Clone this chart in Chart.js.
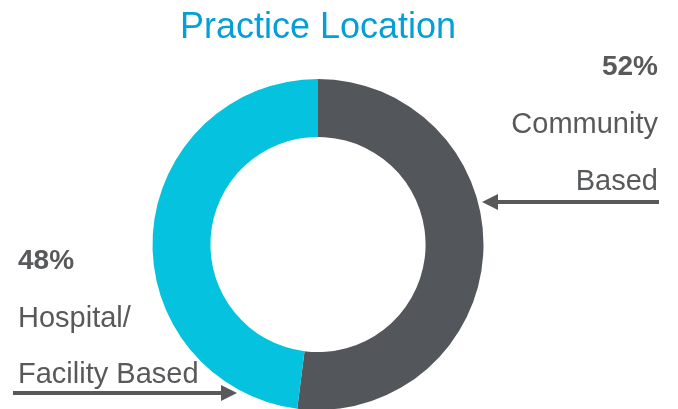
<!DOCTYPE html>
<html>
<head>
<meta charset="utf-8">
<script src="https://cdn.jsdelivr.net/npm/chart.js@4"></script>
<style>
  html, body { margin: 0; padding: 0; background: #fff; overflow: hidden; }
  #wrap { width: 678px; height: 420px; }
</style>
</head>
<body>
<div id="wrap"><canvas id="locChart" width="678" height="420"></canvas></div>
<script>
// 数据
const categories = ['Community Based', 'Hospital/Facility Based'];
const shares = [52, 48];
// 标签的换行方式
const labelLines = [['Community', 'Based'], ['Hospital/', 'Facility Based']];
const sliceColors = ['#53565a', '#05c3de'];

const titleText = 'Practice Location';
const textGray = '#58595b';

// 画箭头
function drawArrow(ctx, x1, y, x2) {
    const dir = x2 > x1 ? 1 : -1;
    ctx.save();
    ctx.strokeStyle = textGray;
    ctx.fillStyle = textGray;
    ctx.lineWidth = 4;
    ctx.beginPath();
    ctx.moveTo(x1, y);
    ctx.lineTo(x2 - dir * 12, y);
    ctx.stroke();
    ctx.beginPath();
    ctx.moveTo(x2, y);
    ctx.lineTo(x2 - dir * 16, y - 8);
    ctx.lineTo(x2 - dir * 16, y + 8);
    ctx.closePath();
    ctx.fill();
    ctx.restore();
}

// 标题 + 两侧标注
const annotePlugin = {
    id: 'annote',
    afterDraw(chart) {
        const ctx = chart.ctx;
        ctx.save();
        ctx.textBaseline = 'alphabetic';

        // 标题
        ctx.fillStyle = '#049fd9';
        ctx.font = '36px "Liberation Sans", Arial, sans-serif';
        ctx.textAlign = 'center';
        ctx.fillText(titleText, 318, 38);

        // 右边：Community Based
        ctx.fillStyle = textGray;
        ctx.textAlign = 'right';
        ctx.font = 'bold 28px "Liberation Sans", Arial, sans-serif';
        ctx.fillText(shares[0] + '%', 658, 75);
        ctx.font = '29px "Liberation Sans", Arial, sans-serif';
        ctx.fillText(labelLines[0][0], 658, 133);
        ctx.fillText(labelLines[0][1], 658, 190);

        // 左边：Hospital/Facility Based
        ctx.textAlign = 'left';
        ctx.font = 'bold 28px "Liberation Sans", Arial, sans-serif';
        ctx.fillText(shares[1] + '%', 18, 269);
        ctx.font = '29px "Liberation Sans", Arial, sans-serif';
        ctx.fillText(labelLines[1][0], 18, 327);
        ctx.fillText(labelLines[1][1], 18, 383);
        ctx.restore();

        drawArrow(ctx, 659, 202, 482);
        drawArrow(ctx, 13, 393, 237);
    }
};

const ctx = document.getElementById('locChart').getContext('2d');
const locChart = new Chart(ctx, {
    type: 'doughnut',
    data: {
        labels: categories,
        datasets: [{
            data: shares,
            backgroundColor: sliceColors,
            borderWidth: 0,
            cutout: '65%'
        }]
    },
    options: {
        responsive: false,
        animation: false,
        layout: { padding: { top: 79, bottom: 10, left: 152, right: 194 } },
        plugins: {
            legend: { display: false },
            tooltip: { enabled: false },
            title: { display: false }
        }
    },
    plugins: [annotePlugin]
});
</script>
</body>
</html>
